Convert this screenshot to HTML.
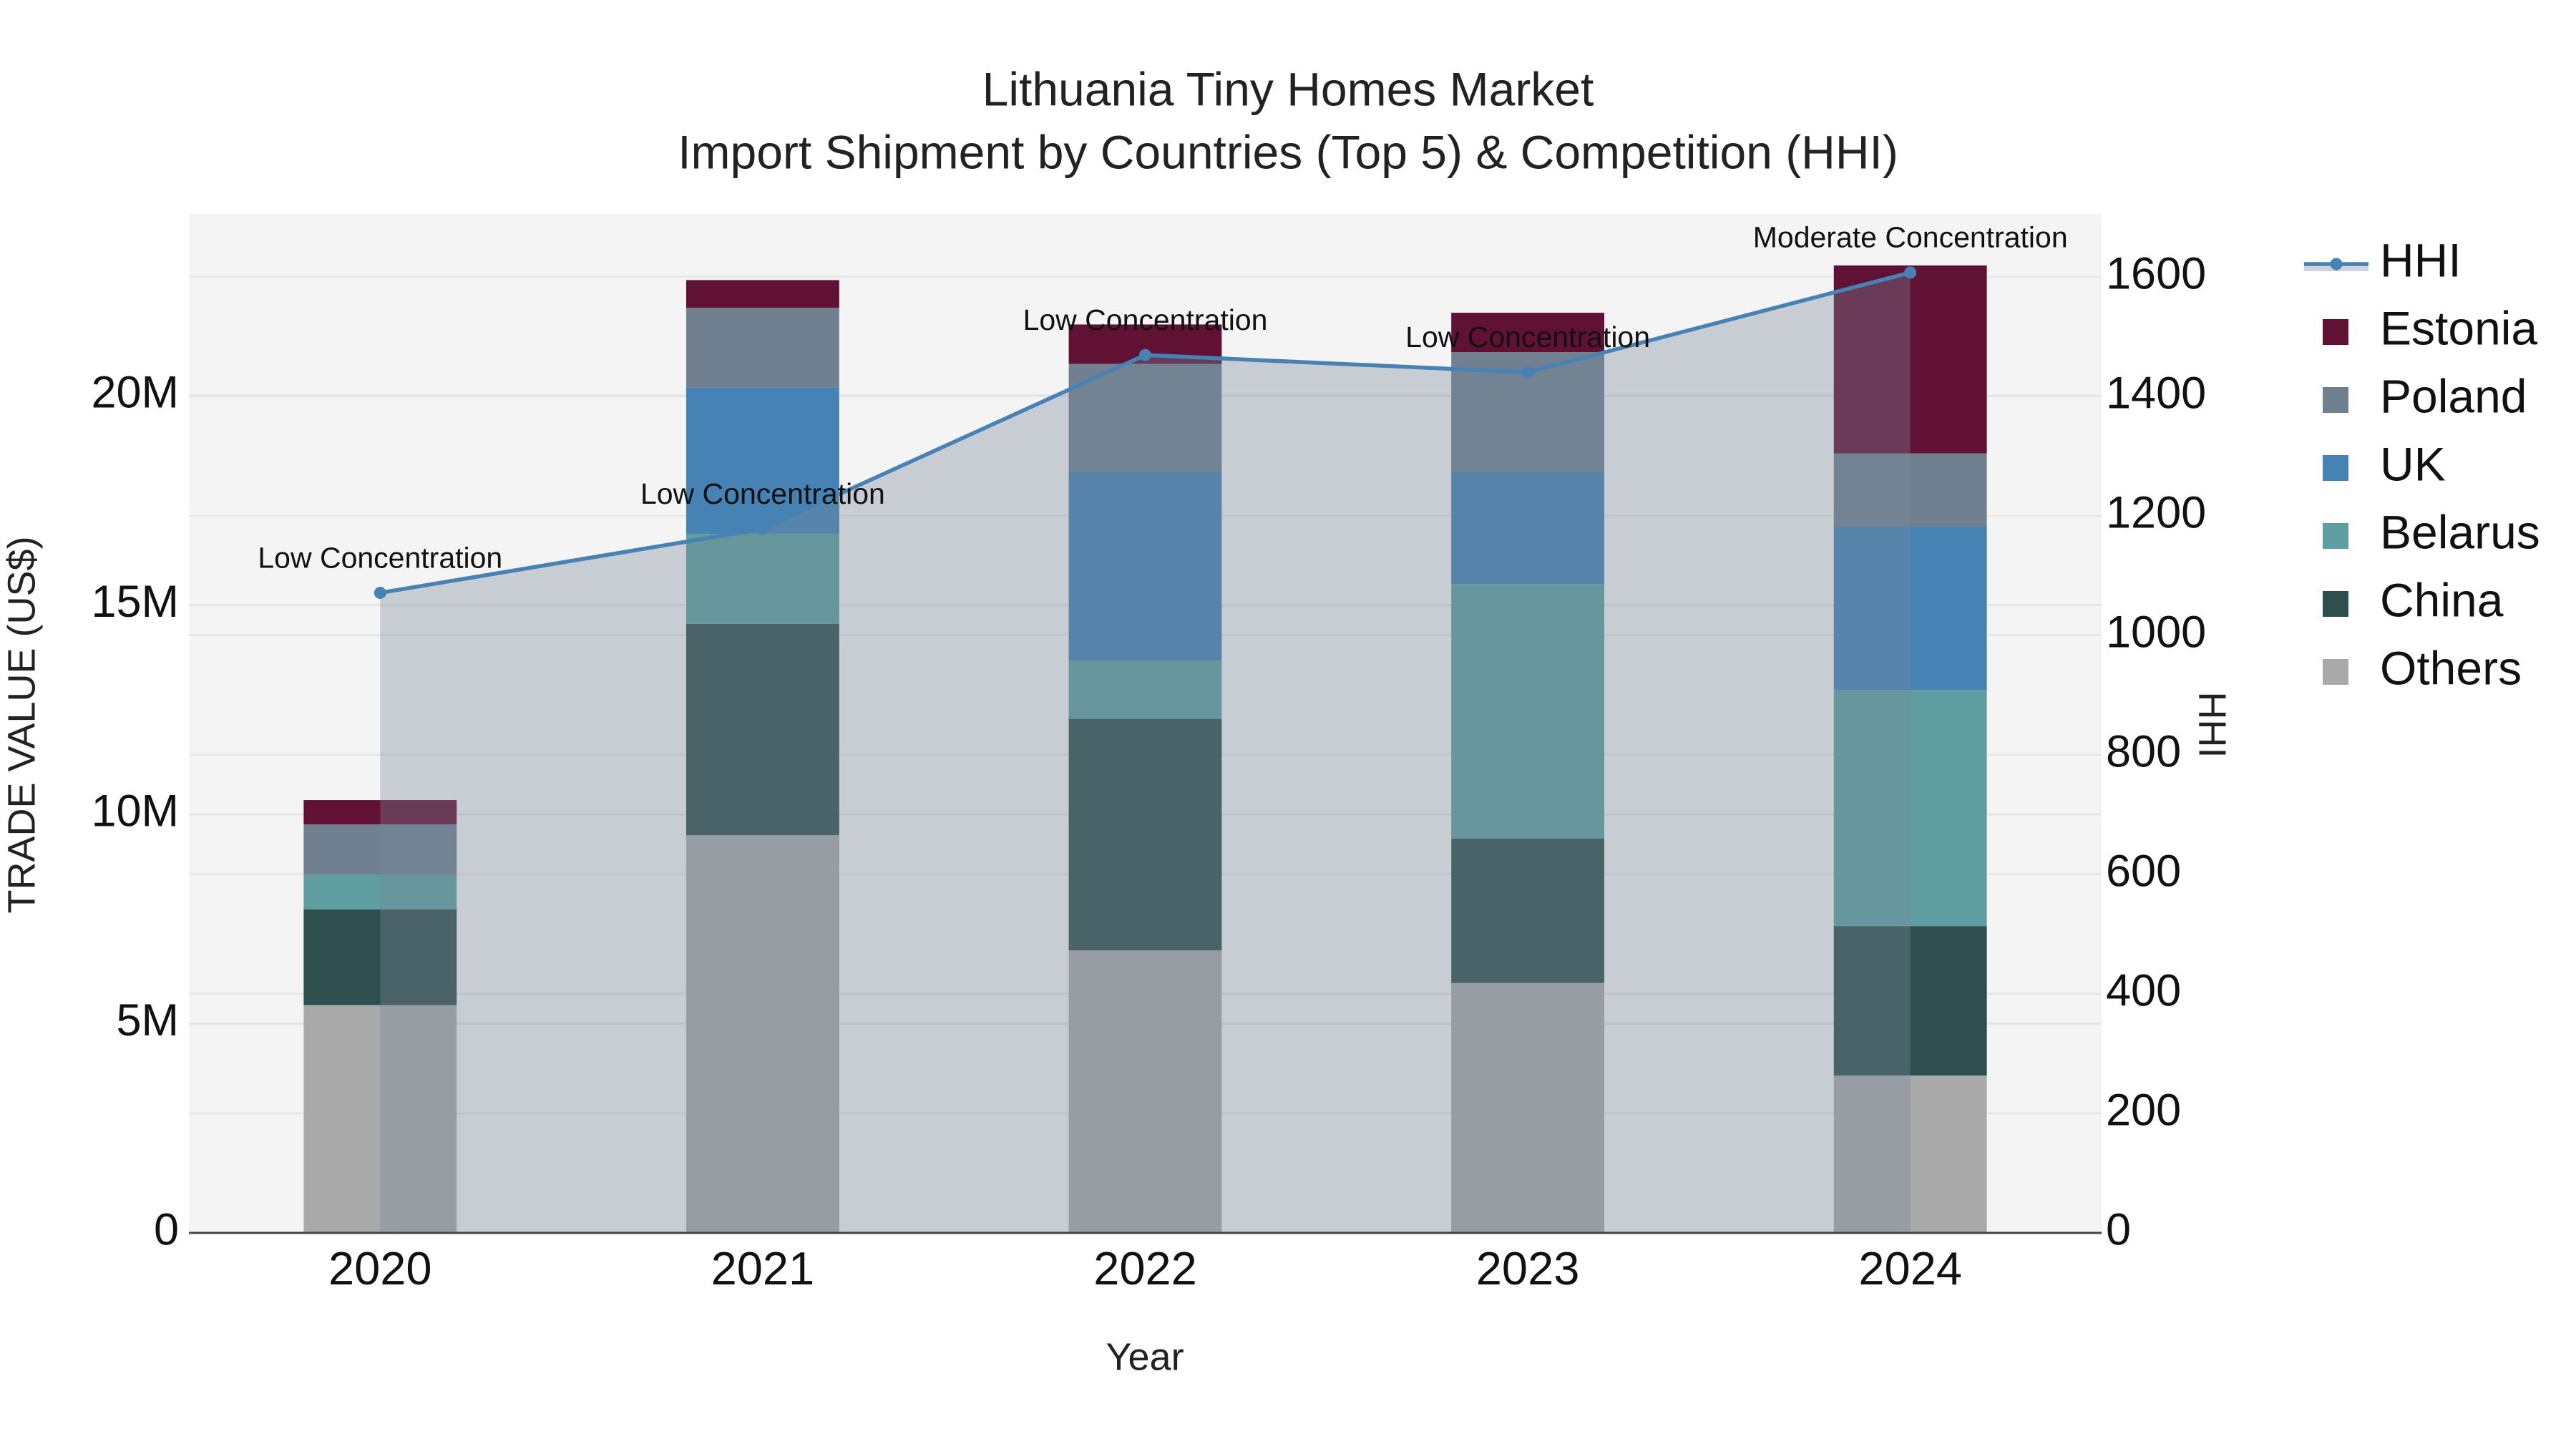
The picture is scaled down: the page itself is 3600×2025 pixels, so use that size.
<!DOCTYPE html>
<html><head><meta charset="utf-8">
<style>
html,body{margin:0;padding:0;background:#fff;}
svg{display:block;font-family:"Liberation Sans",Arial,sans-serif;}
</style></head>
<body>
<svg id="chart" width="3600" height="2025" viewBox="0 0 3600 2025" xmlns="http://www.w3.org/2000/svg">
  <rect x="0" y="0" width="3600" height="2025" fill="#ffffff"/>
  <text x="1800" y="130" text-anchor="middle" dominant-baseline="middle" font-size="66" fill="#222">Lithuania Tiny Homes Market</text>
  <text x="1800" y="218" text-anchor="middle" dominant-baseline="middle" font-size="66" fill="#222">Import Shipment by Countries (Top 5) &amp; Competition (HHI)</text>
  <rect x="264" y="299" width="2673" height="1424" fill="#f4f4f4"/>
  <g id="grid"></g>
  <g id="bars"></g>
  <g id="hhi"></g>
  <g id="axes"></g>
  <g id="legend"></g>
  <text transform="translate(34,1013) rotate(-90)" text-anchor="middle" dominant-baseline="middle" font-size="54" fill="#222">TRADE VALUE (US$)</text>
  <text transform="translate(3088,1013) rotate(90)" text-anchor="middle" dominant-baseline="middle" font-size="54" fill="#222">HHI</text>
  <text x="1600" y="1900" text-anchor="middle" dominant-baseline="middle" font-size="54" fill="#222">Year</text>
</svg>
<script>
const years = ['2020','2021','2022','2023','2024'];
const seriesNames = ['Others','China','Belarus','UK','Poland','Estonia'];
const others  = [5.44, 9.50, 6.75, 5.97, 3.76];
const china   = [2.29, 5.05, 5.53, 3.45, 3.57];
const belarus = [0.82, 2.15, 1.38, 6.08, 5.64];
const uk      = [0.00, 3.50, 4.51, 2.67, 3.90];
const poland  = [1.21, 1.90, 2.59, 2.87, 1.75];
const estonia = [0.58, 0.66, 0.94, 0.94, 4.49];
const hhi = [1071, 1178, 1469, 1440, 1607];
const hhiLabels = ['Low Concentration','Low Concentration','Low Concentration','Low Concentration','Moderate Concentration'];
const yTicks = [0, 5, 10, 15, 20];
const yTickLabels = ['0','5M','10M','15M','20M'];
const y2Ticks = [0,200,400,600,800,1000,1200,1400,1600];

const NS='http://www.w3.org/2000/svg';
const colors = {Others:'#a9a9a9',China:'#2f4f4f',Belarus:'#5f9ea0',UK:'#4682b4',Poland:'#708090',Estonia:'#611134'};
const seriesVals = {Others:others,China:china,Belarus:belarus,UK:uk,Poland:poland,Estonia:estonia};
const L=264,R=2937,T=299,B=1723;
const yMax=24.34, y2Max=1705;
const xs = i => L + (i+0.5)*(R-L)/years.length;
const ys = v => B - v/yMax*(B-T);
const y2s = v => B - v/y2Max*(B-T);
const bw = 0.4*(R-L)/years.length;
function mk(tag, attrs, parent){const e=document.createElementNS(NS,tag);for(const k in attrs)e.setAttribute(k,attrs[k]);parent.appendChild(e);return e;}

const grid=document.getElementById('grid');
yTicks.forEach(t=>{
  const l=mk('line',{x1:L,x2:R,y1:ys(t),y2:ys(t),stroke:'#e3e3e3','stroke-width':3},grid);
  
  
});
y2Ticks.forEach(t=>{
  const l=mk('line',{x1:L,x2:R,y1:y2s(t),y2:y2s(t),stroke:'#e6e6e6','stroke-width':2.5},grid);
  
  
});

const bars=document.getElementById('bars');
years.forEach((y,i)=>{
  let base=0;
  seriesNames.forEach(s=>{
    const v=seriesVals[s][i];
    if(v>0){
      const r=mk('rect',{x:xs(i)-bw/2,y:ys(base+v),width:bw,height:ys(base)-ys(base+v),fill:colors[s]},bars);
      
      
    }
    base+=v;
  });
});

const hg=document.getElementById('hhi');
let area='M'+xs(0)+','+B;
hhi.forEach((v,i)=>{area+=' L'+xs(i)+','+y2s(v);});
area+=' L'+xs(hhi.length-1)+','+B+' Z';
const ar=mk('path',{d:area,fill:'rgba(119,136,153,0.36)'},hg);


const ln=mk('polyline',{points:hhi.map((v,i)=>xs(i)+','+y2s(v)).join(' '),fill:'none',stroke:'#4682b4','stroke-width':5.5},hg);


hhi.forEach((v,i)=>{
  const c=mk('circle',{cx:xs(i),cy:y2s(v),r:8.5,fill:'#4682b4'},hg);
  
  
  const t=mk('text',{x:xs(i),y:y2s(v)-46,'text-anchor':'middle','dominant-baseline':'middle','font-size':41,fill:'#111'},hg);
  t.textContent=hhiLabels[i];
  
  
});

const ax=document.getElementById('axes');
const bl=mk('line',{x1:L,x2:R,y1:B,y2:B,stroke:'#444','stroke-width':3},ax);


yTicks.forEach((t,i)=>{
  const e=mk('text',{x:L-14,y:ys(t),'text-anchor':'end','dominant-baseline':'middle','font-size':63,fill:'#111'},ax);
  e.textContent=yTickLabels[i];
  
  
});
y2Ticks.forEach(t=>{
  const e=mk('text',{x:R+6,y:y2s(t),'text-anchor':'start','dominant-baseline':'middle','font-size':63,fill:'#111'},ax);
  e.textContent=String(t);
  
  
});
years.forEach((y,i)=>{
  const e=mk('text',{x:xs(i),y:1778,'text-anchor':'middle','dominant-baseline':'middle','font-size':65,fill:'#111'},ax);
  e.textContent=y;
  
  
});

const lg=document.getElementById('legend');
const legendNames=['HHI','Estonia','Poland','UK','Belarus','China','Others'];
legendNames.forEach((n,i)=>{
  const cy=369+i*95;
  const g=mk('g',{},lg);
  
  
  if(n==='HHI'){
    mk('rect',{x:3220,y:cy-2,width:90,height:12,fill:'rgba(119,136,153,0.36)'},g);
    mk('line',{x1:3220,x2:3310,y1:cy,y2:cy,stroke:'#4682b4','stroke-width':5.5},g);
    mk('circle',{cx:3265,cy:cy,r:8.5,fill:'#4682b4'},g);
  } else {
    mk('rect',{x:3246,y:cy-18,width:36,height:36,fill:colors[n]},g);
  }
  const t=mk('text',{x:3326,y:cy,'dominant-baseline':'middle','font-size':66,fill:'#111'},g);
  t.textContent=n;
});
</script>
</body></html>
